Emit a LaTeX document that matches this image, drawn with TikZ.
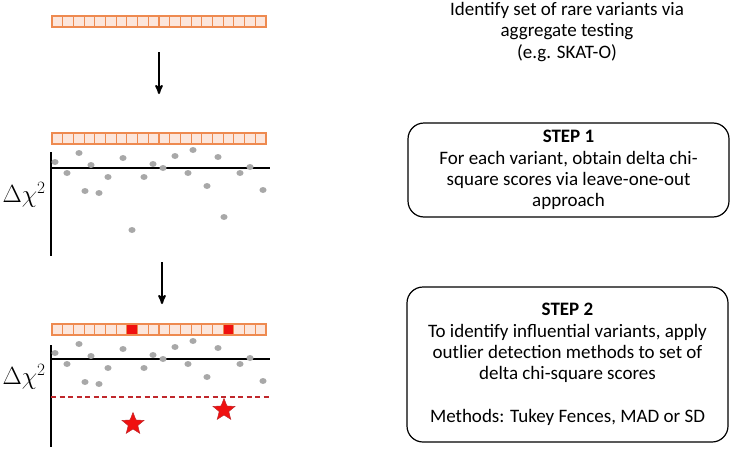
\documentclass[tikz,border=0pt]{standalone}
\usepackage{fontspec}
\setmainfont{Carlito}
\usetikzlibrary{arrows,calc,shapes.geometric}
\definecolor{cellorange}{HTML}{EE8A50}
\definecolor{cellfill}{HTML}{FCE6DC}
\definecolor{hitred}{HTML}{F01010}
\definecolor{dotgray}{HTML}{A8A8A8}
\definecolor{cutred}{HTML}{C0282C}
\tikzset{
%Define standard arrow tip
>=stealth',
%Define styles for the variant sets and the plots
cell/.style={draw=cellorange, fill=cellfill, line width=1.1pt},
hitcell/.style={cell, fill=hitred},
score/.style={fill=dotgray},
axisline/.style={line width=1.3pt},
cutoff/.style={draw=cutred, line width=1.2pt, dash pattern=on 5pt off 3.5pt},
outlier/.style={star, star points=5, star point ratio=2.3, fill=hitred, draw=cutred, line width=0.5pt, minimum size=23pt, inner sep=0pt},
chilabel/.style={font=\fontsize{24}{28}\selectfont, inner sep=0pt},
flow/.style={->, line width=2pt},
note/.style={align=center, font=\fontsize{19}{21.3}\selectfont},
stepbox/.style={note, draw, rounded corners=16pt, line width=1.2pt, minimum width=321pt},
}
\begin{document}
\begin{tikzpicture}[x=1pt,y=-1pt]
    \useasboundingbox (0,0) rectangle (734,450);
    % Variant sets
    \foreach \row in {16,133,324} {
        \foreach \i in {0,...,19} {
            \draw[cell] (52+10.7*\i,\row) rectangle ++(10.7,11);
        }
    }
    \draw[hitcell] (52+10.7*7,324) rectangle ++(10.7,11);
    \draw[hitcell] (52+10.7*16,324) rectangle ++(10.7,11);
    % Arrows
    \coordinate (a1) at (159,52);
    \coordinate (a1end) at (159,94);
    \draw[flow] (a1) -- (a1end);
    \coordinate (a2) at (162,262);
    \coordinate (a2end) at (162,304);
    \draw[flow] (a2) -- (a2end);
    % Axis, step 1
    \draw[axisline] (51,152) -- (51,256);
    \draw[axisline] (51,168) -- (270,168);
    \node[chilabel] (chi1) at (24,195) {$\Delta\chi^2$};
    \foreach \x/\y in {55/-6, 67/5, 79/-15, 85/23, 91/-3, 99/25, 108/9, 123/-10, 132/62, 144/9, 153/-4, 163/0, 175/-12, 188/5, 193/-18, 207/18, 218/-11, 224/49, 240/5, 250/-1, 263/22} {
        \fill[score] (\x,168+\y) ellipse (3.6pt and 3pt);
    }
    % Axis, step 2
    \draw[axisline] (51,345) -- (51,447);
    \draw[axisline] (51,359) -- (270,359);
    \node[chilabel] (chi2) at (24,377) {$\Delta\chi^2$};
    \foreach \x/\y in {55/-6, 67/5, 79/-15, 85/23, 91/-3, 99/25, 108/9, 123/-10, 144/9, 153/-4, 163/0, 175/-12, 188/5, 193/-18, 207/18, 218/-11, 240/5, 250/-1, 263/22} {
        \fill[score] (\x,359+\y) ellipse (3.6pt and 3pt);
    }
    \draw[cutoff] (51,397) -- (270,397);
    \node[outlier] (star1) at (133,424) {};
    \node[outlier] (star2) at (224,410) {};
    % Descriptions
    \node[note] (aggregate) at (567,32) {Identify set of rare variants via\\aggregate testing\\(e.g. SKAT-O)};
    \node[stepbox, minimum height=94pt] (step1) at (568.5,170) {\textbf{STEP 1}\\For each variant, obtain delta chi-\\square scores via leave-one-out\\approach};
    \node[stepbox, minimum height=155pt] (step2) at (567.5,364.5) {\textbf{STEP 2}\\To identify influential variants, apply\\outlier detection methods to set of\\delta chi-square scores\\[21.3pt]Methods: Tukey Fences, MAD or SD};
\end{tikzpicture}
\end{document}
